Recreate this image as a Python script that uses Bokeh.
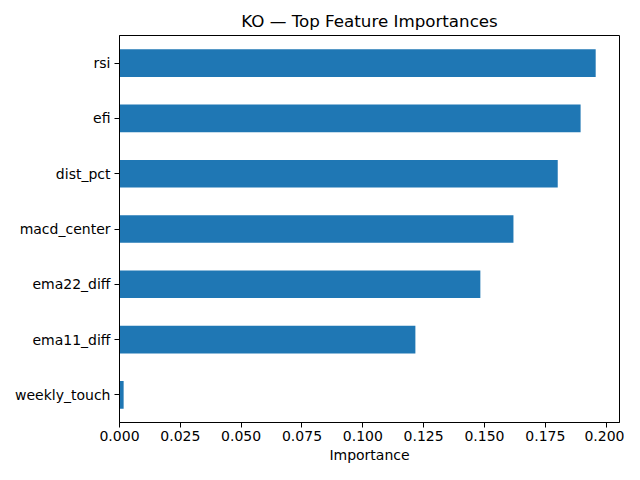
from bokeh.embed import file_html
from bokeh.models import FactorRange, FixedTicker, NumeralTickFormatter, Range1d
from bokeh.plotting import figure
from bokeh.resources import INLINE

# bottom -> top, as drawn
features = ["weekly_touch", "ema11_diff", "ema22_diff", "macd_center",
            "dist_pct", "efi", "rsi"]
importances = [0.0017, 0.1216, 0.1483, 0.1619, 0.1801, 0.1895, 0.1957]
x_ticks = [0.0, 0.025, 0.05, 0.075, 0.1, 0.125, 0.15, 0.175, 0.2]

FONT = "DejaVu Sans"

p = figure(
    width=624, height=470,
    y_range=FactorRange(factors=features),
    x_range=Range1d(0, max(importances) * 1.05),
    title="KO \u2014 Top Feature Importances",
    output_backend="svg",
    toolbar_location=None,
    min_border_left=119, min_border_right=5,
    min_border_top=35, min_border_bottom=48,
)

p.hbar(y=features, right=importances, height=0.5, left=0,
       fill_color="#1f77b4", line_color=None)

p.title.align = "center"
p.title.text_font = FONT
p.title.text_font_size = "16.7px"
p.title.text_font_style = "normal"
p.title.text_color = "black"

p.outline_line_color = "black"
p.outline_line_width = 1
p.outline_line_alpha = 1
p.xgrid.visible = False
p.ygrid.visible = False

for ax in (p.xaxis[0], p.yaxis[0]):
    ax.axis_line_color = "black"
    ax.major_tick_line_color = "black"
    ax.major_tick_out = 5
    ax.major_tick_in = 0
    ax.minor_tick_line_color = None
    ax.major_label_text_font = FONT
    ax.major_label_text_font_size = "14px"
    ax.major_label_text_color = "black"

p.xaxis.ticker = FixedTicker(ticks=x_ticks)
p.xaxis.formatter = NumeralTickFormatter(format="0.000")
p.xaxis.axis_label = "Importance"
p.xaxis.axis_label_text_font = FONT
p.xaxis.axis_label_text_font_size = "14px"
p.xaxis.axis_label_text_font_style = "normal"
p.xaxis.axis_label_text_color = "black"
p.xaxis.major_label_standoff = 3
p.xaxis.axis_label_standoff = 3
p.yaxis.major_label_standoff = 4

open("out.html", "w").write(file_html(p, INLINE))
